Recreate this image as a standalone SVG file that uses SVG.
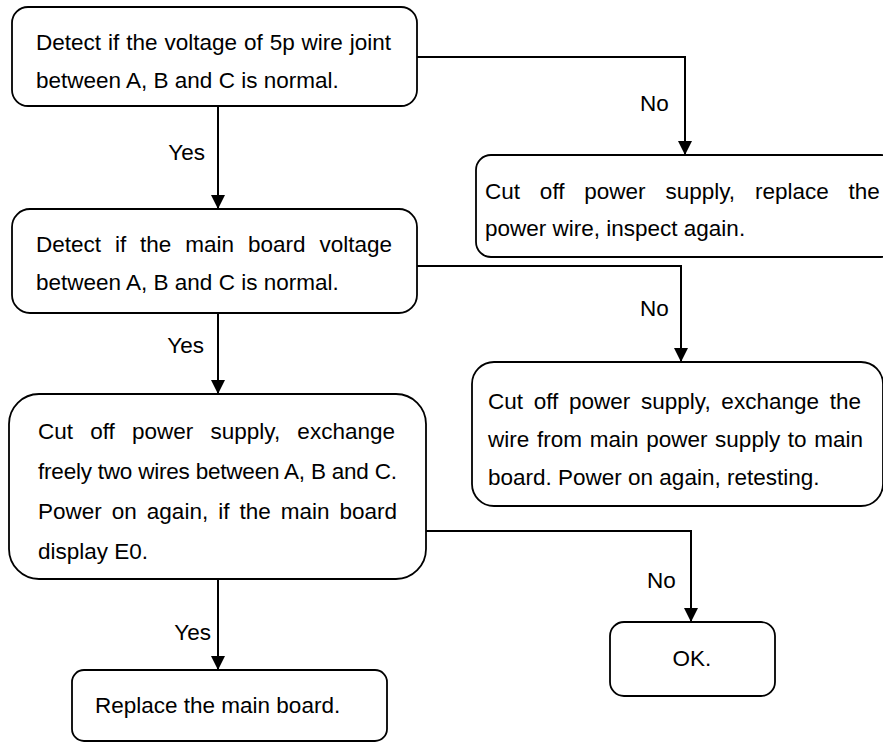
<svg xmlns="http://www.w3.org/2000/svg" width="883" height="743" viewBox="0 0 883 743">
<style>
.box{fill:#fff;stroke:#000;stroke-width:1.8}
.t{font-family:"Liberation Sans",Arial,sans-serif;font-size:22.5px;fill:#000}
.c{fill:none;stroke:#000;stroke-width:2}
</style>
<defs>
<marker id="ah" markerUnits="userSpaceOnUse" markerWidth="16" markerHeight="16" viewBox="0 0 16 16" refX="14" refY="8" orient="auto">
<path d="M0,1 L14,8 L0,15 Z" fill="#000"/>
</marker>
</defs>
<rect width="883" height="743" fill="#fff"/>
<g id="connectors">
<path class="c" d="M218,106 V209" marker-end="url(#ah)"/>
<path class="c" d="M417,57 H685 V155" marker-end="url(#ah)"/>
<path class="c" d="M218,313 V394" marker-end="url(#ah)"/>
<path class="c" d="M417,266 H681 V362" marker-end="url(#ah)"/>
<path class="c" d="M218,579 V670" marker-end="url(#ah)"/>
<path class="c" d="M426,531 H691 V622" marker-end="url(#ah)"/>
<text class="t" x="205" y="160" text-anchor="end">Yes</text>
<text class="t" x="640" y="111">No</text>
<text class="t" x="204" y="353" text-anchor="end">Yes</text>
<text class="t" x="640" y="316">No</text>
<text class="t" x="211" y="640" text-anchor="end">Yes</text>
<text class="t" x="647" y="588">No</text>
</g>
<g id="n1">
<rect class="box" x="12" y="7" width="405" height="99" rx="16"/>
<text class="t" x="36" y="50" word-spacing="0.7">Detect if the voltage of 5p wire joint</text>
<text class="t" x="36" y="88">between A, B and C is normal.</text>
</g>
<g id="n2">
<rect class="box" x="476" y="155" width="420" height="102" rx="15"/>
<text class="t" x="485" y="199" word-spacing="13.6">Cut off power supply, replace the</text>
<text class="t" x="485" y="236">power wire, inspect again.</text>
</g>
<g id="n3">
<rect class="box" x="12" y="209" width="405" height="104" rx="18"/>
<text class="t" x="36" y="252" word-spacing="7.66">Detect if the main board voltage</text>
<text class="t" x="36" y="290">between A, B and C is normal.</text>
</g>
<g id="n4">
<rect class="box" x="472" y="362" width="411" height="144" rx="22"/>
<text class="t" x="488" y="409" word-spacing="4.46">Cut off power supply, exchange the</text>
<text class="t" x="488" y="447" word-spacing="1.45">wire from main power supply to main</text>
<text class="t" x="488" y="485">board. Power on again, retesting.</text>
</g>
<g id="n5">
<rect class="box" x="9" y="394" width="417" height="185" rx="30"/>
<text class="t" x="38" y="439" word-spacing="10.96">Cut off power supply, exchange</text>
<text class="t" x="38" y="479" textLength="359" lengthAdjust="spacing">freely two wires between A, B and C.</text>
<text class="t" x="38" y="519" word-spacing="3.77">Power on again, if the main board</text>
<text class="t" x="38" y="559">display E0.</text>
</g>
<g id="n6">
<rect class="box" x="72" y="670" width="315" height="71" rx="12"/>
<text class="t" x="95" y="713">Replace the main board.</text>
</g>
<g id="n7">
<rect class="box" x="610" y="622" width="165" height="74" rx="14"/>
<text class="t" x="692" y="666" text-anchor="middle">OK.</text>
</g>
</svg>
